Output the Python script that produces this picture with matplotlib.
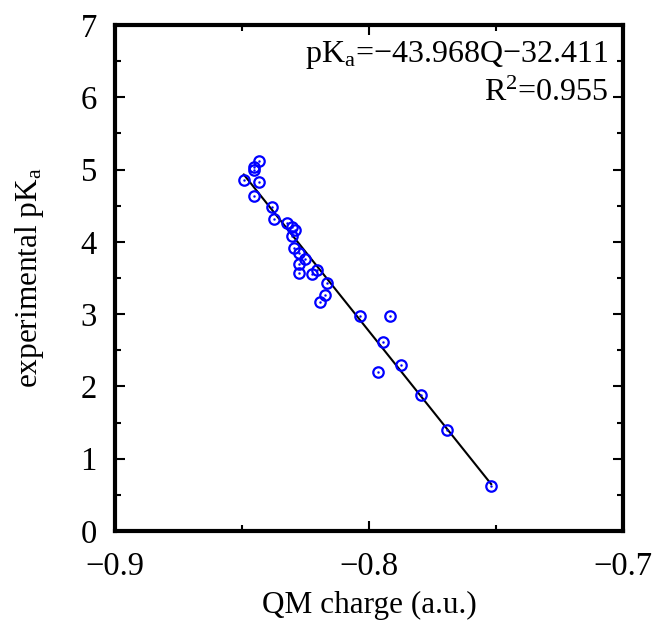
import matplotlib
matplotlib.use("Agg")
import matplotlib.pyplot as plt
import numpy as np
from matplotlib.ticker import MultipleLocator

plt.rcParams["font.family"] = ["Liberation Serif", "DejaVu Serif"]
plt.rcParams["mathtext.fontset"] = "custom"
plt.rcParams["mathtext.rm"] = "Liberation Serif"
plt.rcParams["mathtext.it"] = "Liberation Serif"

# QM charge (a.u.) vs experimental pKa
charge = [-0.8434, -0.8454, -0.8451, -0.8493, -0.8434, -0.8454, -0.8383,
          -0.8374, -0.8323, -0.8303, -0.8291, -0.8303, -0.8294, -0.8275,
          -0.8252, -0.8275, -0.8275, -0.8225, -0.8203, -0.8166, -0.8174,
          -0.8194, -0.8035, -0.7916, -0.7944, -0.7966, -0.7875, -0.7795,
          -0.7694, -0.7519]
pka = [5.12, 5.03, 5.00, 4.855, 4.83, 4.64, 4.485,
       4.31, 4.26, 4.21, 4.165, 4.08, 3.91, 3.84,
       3.76, 3.69, 3.57, 3.55, 3.605, 3.43, 3.27,
       3.17, 2.98, 2.98, 2.61, 2.20, 2.30, 1.88,
       1.40, 0.62]

slope = -43.968
intercept = -32.411
r2 = 0.955

fig = plt.figure(figsize=(6.52, 6.23), dpi=100)
ax = fig.add_axes([0.1764, 0.1477, 0.7791, 0.8122])

xfit = np.array([min(charge), max(charge)])
ax.plot(xfit, slope * xfit + intercept, color="black", lw=1.5, zorder=2)

ax.plot(charge, pka, linestyle="none", marker="o", ms=7.5, mfc="none",
        mec="#0000ff", mew=1.6, zorder=3)
ax.plot(charge, pka, linestyle="none", marker="o", ms=1.4, mfc="#0000ff",
        mec="#0000ff", mew=0.3, zorder=3)

ax.set_xlim(-0.9, -0.7)
ax.set_ylim(0, 7)
ax.xaxis.set_minor_locator(MultipleLocator(0.05))
ax.yaxis.set_major_locator(MultipleLocator(1))
ax.yaxis.set_minor_locator(MultipleLocator(0.5))
ax.set_xticks([-0.9, -0.8, -0.7])
ax.set_xticklabels(["\u22120.9", "\u22120.8", "\u22120.7"])

for s in ax.spines.values():
    s.set_linewidth(3)
ax.tick_params(which="both", direction="in", top=True, right=True,
               labelsize=23.5)
ax.tick_params(which="major", length=7, width=1.5)
ax.tick_params(which="minor", length=4, width=1.5)
ax.tick_params(axis="x", which="major", pad=15)
ax.tick_params(axis="y", which="major", pad=13)

ax.set_xlabel("QM charge (a.u.)", fontsize=22.5, labelpad=6)
ax.set_ylabel("experimental pK$_\\mathrm{a}$", fontsize=22.5, labelpad=25)

ax.text(0.972, 0.973, "pK$_\\mathrm{a}$=\u221243.968Q\u221232.411",
        transform=ax.transAxes, ha="right", va="top", fontsize=23)
ax.text(0.972, 0.893, "R$^\\mathrm{2}$=%.3f" % r2,
        transform=ax.transAxes, ha="right", va="top", fontsize=23)

fig.savefig("out.png", dpi=100)
